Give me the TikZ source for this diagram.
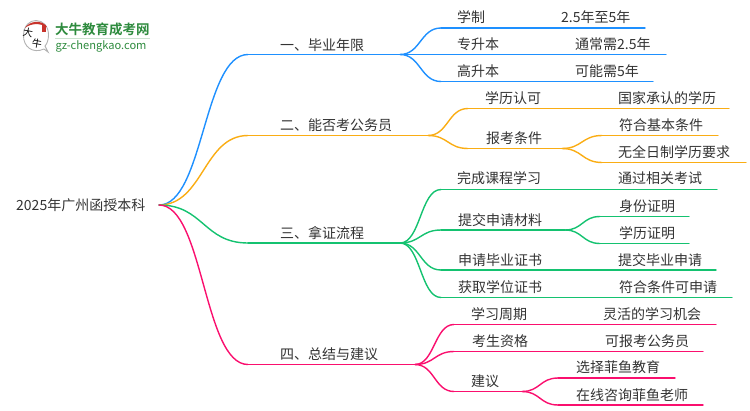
\documentclass[tikz,border=0pt]{standalone}
\usepackage{fontspec}
\setmainfont{Noto Sans CJK SC}
\newfontfamily\logofont{Noto Sans CJK SC Bold}
\definecolor{cblue}{HTML}{1E90FF}
\definecolor{corange}{HTML}{FAAD14}
\definecolor{cgreen}{HTML}{14C270}
\definecolor{cpink}{HTML}{FA0F6E}
\definecolor{ctext}{HTML}{333333}
\definecolor{cgreenlogo}{HTML}{2E8B3E}
\definecolor{cred}{HTML}{C8332B}
\newcommand{\spline}[3]{\draw[#1] (#2) .. controls ($(#2)!0.5!(#2 -| #3)$) and ($(#3)!0.5!(#2 |- #3)$) .. (#3);}
\tikzset{
 x=1pt,y=-1pt,
 lab/.style={anchor=base west,inner sep=0pt,font=\fontsize{14}{14}\selectfont,text=ctext},
 lnk/.style={line width=1.4pt,line cap=round},
 lblue/.style={lnk,cblue},lorange/.style={lnk,corange},lgreen/.style={lnk,cgreen},lpink/.style={lnk,cpink},
}
\usetikzlibrary{calc}
\begin{document}
\begin{tikzpicture}
\useasboundingbox (0,0) rectangle (750,410);
% logo
\draw[black!30,line width=0.9pt,fill=white] (44,49) .. controls (33,54) and (23,47) .. (23.5,35) .. controls (24,25) and (30,20.5) .. (36,20.5) .. controls (43,20.5) and (48.5,26) .. (48.5,35) .. controls (48.5,40) and (47,44) .. (45,46) -- (48,52) -- cycle;
\fill[cred] (25,28) .. controls (29,21) and (42,19) .. (47,27) .. controls (40,23) and (31,23) .. (25,28) -- cycle;
\fill[cred] (41.5,25) rectangle (45.5,31.5);
\node[inner sep=0pt,font=\fontsize{10}{10}\selectfont,text=black,rotate=-10] (logoa) at (28,33) {大};
\node[inner sep=0pt,font=\fontsize{10}{10}\selectfont,text=black,rotate=-10] (logob) at (37,43.5) {牛};
\node[anchor=base west,inner sep=0pt,font=\logofont\fontsize{13.5}{13.5}\selectfont,text=cgreenlogo] (logot) at (55,34.5) {大牛教育成考网};
\draw[cgreenlogo!25,line width=0.8pt] (55,38.8) -- (150,38.8);
\node[anchor=base west,inner sep=0pt,font=\fontsize{11.1}{11.1}\selectfont,text=cgreenlogo] (logou) at (55.5,49) {gz-chengkao.com};
% texts
\node[lab] (root) at (16,210) {2025年广州函授本科};
\node[lab] (m1) at (280,50) {一、毕业年限};
\node[lab] (m2) at (280,130) {二、能否考公务员};
\node[lab] (m3) at (280,238) {三、拿证流程};
\node[lab] (m4) at (280,359) {四、总结与建议};
\node[lab] (a1) at (457,22) {学制};
\node[lab] (a1v) at (561,22) {2.5年至5年};
\node[lab] (a2) at (457,49) {专升本};
\node[lab] (a2v) at (575,49) {通常需2.5年};
\node[lab] (a3) at (457,76) {高升本};
\node[lab] (a3v) at (575,76) {可能需5年};
\node[lab] (b1) at (485,103) {学历认可};
\node[lab] (b1v) at (618,103) {国家承认的学历};
\node[lab] (b2) at (486,143) {报考条件};
\node[lab] (b2a) at (619,130) {符合基本条件};
\node[lab] (b2b) at (618,157) {无全日制学历要求};
\node[lab] (c1) at (457,183) {完成课程学习};
\node[lab] (c1v) at (618,183) {通过相关考试};
\node[lab] (c2) at (458,225) {提交申请材料};
\node[lab] (c2a) at (619,211) {身份证明};
\node[lab] (c2b) at (619,238) {学历证明};
\node[lab] (c3) at (458,265) {申请毕业证书};
\node[lab] (c3v) at (618,265) {提交毕业申请};
\node[lab] (c4) at (458,292) {获取学位证书};
\node[lab] (c4v) at (619,292) {符合条件可申请};
\node[lab] (d1) at (471,319) {学习周期};
\node[lab] (d1v) at (603,319) {灵活的学习机会};
\node[lab] (d2) at (472,346) {考生资格};
\node[lab] (d2v) at (605,346) {可报考公务员};
\node[lab] (d3) at (471,386) {建议};
\node[lab] (d3a) at (576,372) {选择菲鱼教育};
\node[lab] (d3b) at (576,400) {在线咨询菲鱼老师};
% junctions and ends
\coordinate (r0) at (159,205);
\coordinate (m1s) at (248,54.5); \coordinate (m1e) at (400,54.5);
\coordinate (m2s) at (248,135.5); \coordinate (m2e) at (428,135.5);
\coordinate (m3s) at (248,243); \coordinate (m3e) at (400,243);
\coordinate (m4s) at (248,364.5); \coordinate (m4e) at (415,364.5);
% main
\spline{lblue}{r0}{m1s} \draw[lblue] (m1s) -- (m1e);
\spline{lorange}{r0}{m2s} \draw[lorange] (m2s) -- (m2e);
\spline{lgreen}{r0}{m3s} \draw[lgreen] (m3s) -- (m3e);
\spline{lpink}{r0}{m4s} \draw[lpink] (m4s) -- (m4e);
% branch 1
\coordinate (a1s) at (441,28); \coordinate (a1e) at (645,28);
\coordinate (a2s) at (441,54.5); \coordinate (a2e) at (666,54.5);
\coordinate (a3s) at (441,81.5); \coordinate (a3e) at (653,81.5);
\foreach \n in {a1,a2,a3} {\spline{lblue}{m1e}{\n s} \draw[lblue] (\n s) -- (\n e);}
% branch 2
\coordinate (b1s) at (468,108.5); \coordinate (b1e) at (729,108.5);
\coordinate (b2s) at (468,148.5); \coordinate (b2e) at (562,148.5);
\foreach \n in {b1,b2} {\spline{lorange}{m2e}{\n s} \draw[lorange] (\n s) -- (\n e);}
\coordinate (b3s) at (602,135.5); \coordinate (b3e) at (718,135.5);
\coordinate (b4s) at (602,162.5); \coordinate (b4e) at (746,162.5);
\foreach \n in {b3,b4} {\spline{lorange}{b2e}{\n s} \draw[lorange] (\n s) -- (\n e);}
% branch 3
\coordinate (c1s) at (441,189.5); \coordinate (c1e) at (717,189.5);
\coordinate (c2s) at (441,230); \coordinate (c2e) at (565,230);
\coordinate (c3s) at (441,270); \coordinate (c3e) at (716,270);
\coordinate (c4s) at (441,297.5); \coordinate (c4e) at (732,297.5);
\foreach \n in {c1,c2,c3,c4} {\spline{lgreen}{m3e}{\n s} \draw[lgreen] (\n s) -- (\n e);}
\coordinate (c5s) at (600,216.5); \coordinate (c5e) at (689,216.5);
\coordinate (c6s) at (600,243.5); \coordinate (c6e) at (689,243.5);
\foreach \n in {c5,c6} {\spline{lgreen}{c2e}{\n s} \draw[lgreen] (\n s) -- (\n e);}
% branch 4
\coordinate (d1s) at (454,324.5); \coordinate (d1e) at (716,324.5);
\coordinate (d2s) at (454,351.5); \coordinate (d2e) at (703,351.5);
\coordinate (d3s) at (454,391.5); \coordinate (d3e) at (522,391.5);
\foreach \n in {d1,d2,d3} {\spline{lpink}{m4e}{\n s} \draw[lpink] (\n s) -- (\n e);}
\coordinate (d4s) at (558,378); \coordinate (d4e) at (675,378);
\coordinate (d5s) at (558,405); \coordinate (d5e) at (703,405);
\foreach \n in {d4,d5} {\spline{lpink}{d3e}{\n s} \draw[lpink] (\n s) -- (\n e);}
\end{tikzpicture}
\end{document}
